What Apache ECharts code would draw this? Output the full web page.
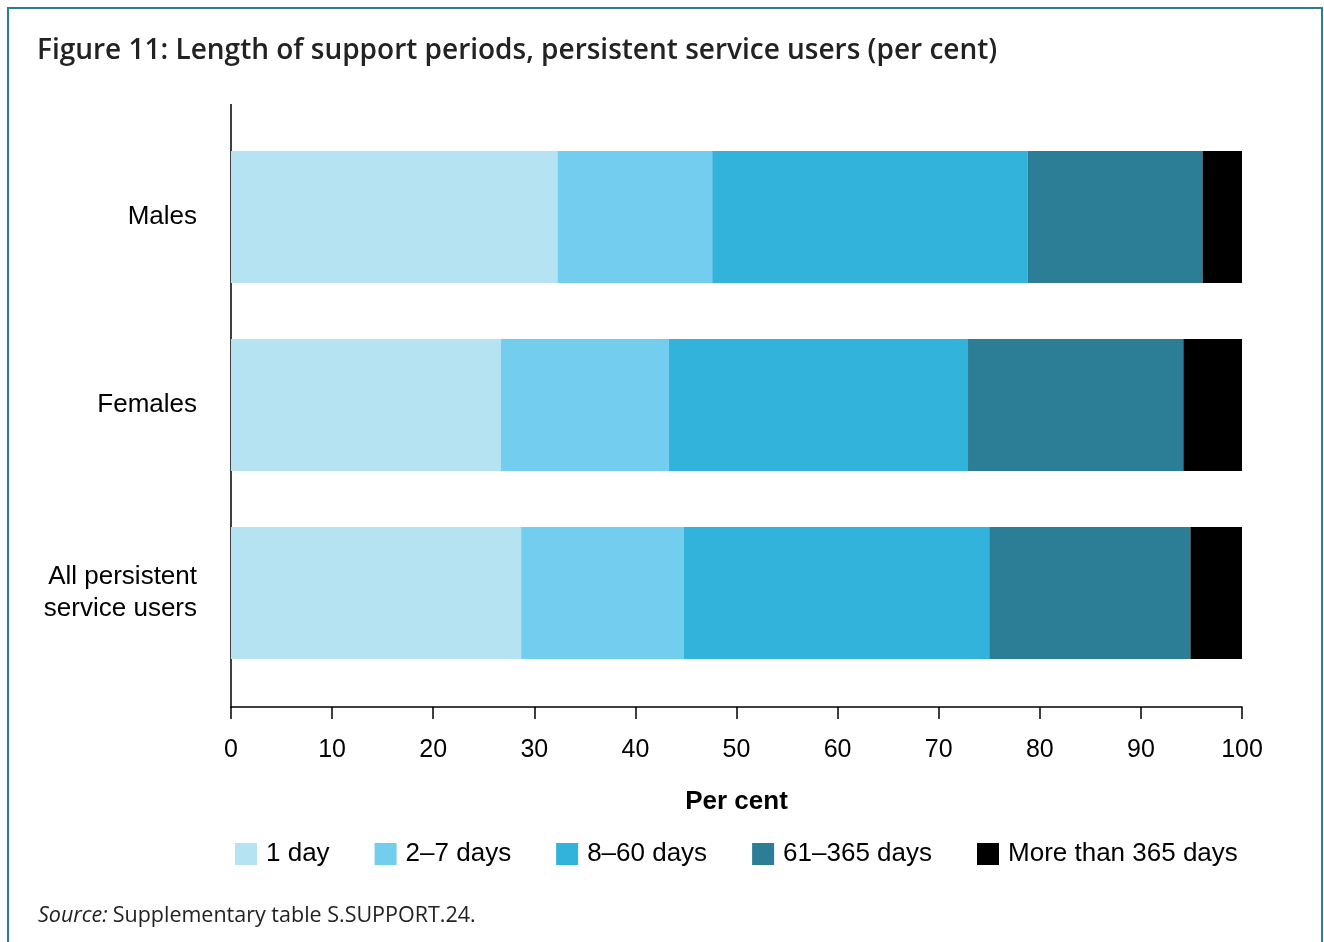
<!DOCTYPE html>
<html>
<head>
<meta charset="utf-8">
<script src="https://cdn.jsdelivr.net/npm/echarts@6/dist/echarts.min.js"></script>
<style>html,body{margin:0;padding:0;background:#fff}#c{width:1324px;height:942px}</style>
</head>
<body>
<div id="c"></div>
<script>
const categories = ['Males', 'Females', 'All persistent\nservice users'];
const seriesNames = ['1 day', '2–7 days', '8–60 days', '61–365 days', 'More than 365 days'];
const oneDay = [32.3, 26.7, 28.7];
const twoToSeven = [15.3, 16.6, 16.1];
const eightToSixty = [31.2, 29.6, 30.2];
const sixtyOneTo365 = [17.3, 21.3, 19.9];
const moreThan365 = [3.9, 5.8, 5.1];
const xTicks = [0, 10, 20, 30, 40, 50, 60, 70, 80, 90, 100];
const colors = ['#b5e3f2', '#72cdee', '#32b3db', '#2c7d96', '#000000'];

const values = [oneDay, twoToSeven, eightToSixty, sixtyOneTo365, moreThan365];
const chart = echarts.init(document.getElementById('c'));
chart.setOption({
  animation: false,
  backgroundColor: '#fff',
  title: [{
    text: 'Figure 11: Length of support periods, persistent service users (per cent)',
    left: 37, top: 37, padding: 0,
    textStyle: { fontFamily: 'Open Sans', fontWeight: 600, fontSize: 28, color: '#222' }
  }, {
    text: '{i|Source:} {n|Supplementary table S.SUPPORT.24.}',
    left: 38, top: 905, padding: 0,
    textStyle: {
      fontWeight: 'normal',
      rich: {
        i: { fontFamily: 'Open Sans', fontStyle: 'italic', fontWeight: 'normal', fontSize: 21.5, color: '#222' },
        n: { fontFamily: 'Open Sans', fontWeight: 'normal', fontSize: 21.5, color: '#222' }
      }
    }
  }],
  legend: {
    data: seriesNames,
    left: 230, top: 836,
    itemWidth: 22, itemHeight: 22, itemGap: 45,
    icon: 'rect',
    textStyle: { fontFamily: 'Liberation Sans', fontSize: 26, color: '#000', padding: [0, 0, 0, 4] }
  },
  grid: { left: 231, right: 82, top: 123, bottom: 255 },
  xAxis: {
    type: 'value', min: 0, max: 100, interval: 10,
    offset: 20,
    name: 'Per cent', nameLocation: 'middle', nameGap: 82,
    nameTextStyle: { fontFamily: 'Liberation Sans', fontWeight: 'bold', fontSize: 26, color: '#000' },
    axisLine: { show: true, lineStyle: { color: '#000', width: 1.5 } },
    axisTick: { show: true, length: 12, inside: false, lineStyle: { color: '#000', width: 1.5 } },
    axisLabel: {
      fontFamily: 'Liberation Sans', fontSize: 25, color: '#000', margin: 31,
      formatter: v => xTicks.includes(v) ? String(v) : ''
    },
    splitLine: { show: false }
  },
  yAxis: {
    type: 'category', data: categories, inverse: true,
    axisLine: { show: false }, axisTick: { show: false },
    axisLabel: { fontFamily: 'Liberation Sans', fontSize: 26, color: '#000', margin: 34, lineHeight: 32, align: 'right', padding: [0, 0, 15, 0] }
  },
  series: seriesNames.map((n, i) => ({
    name: n, type: 'bar', stack: 'total', data: values[i],
    barWidth: 132, itemStyle: { color: colors[i] }
  })),
  graphic: [
    { type: 'rect', shape: { x: 8, y: 8, width: 1314, height: 960 }, style: { fill: 'none', stroke: '#2c7d96', lineWidth: 2 }, silent: true },
    { type: 'line', shape: { x1: 231, y1: 104, x2: 231, y2: 708 }, style: { stroke: '#000', lineWidth: 1.5 }, silent: true }
  ]
});
</script>
</body>
</html>
